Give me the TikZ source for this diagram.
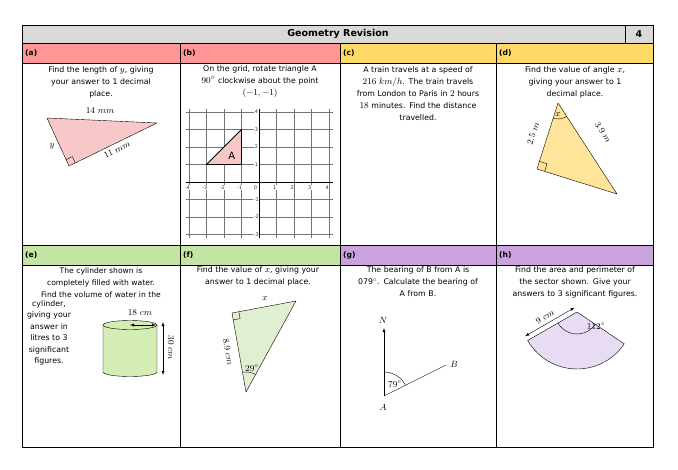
\documentclass[tikz,border=0pt]{standalone}
\usepackage{fontspec}
\setmainfont{DejaVu Sans}
\usetikzlibrary{calc}
\newcommand{\mth}[1]{{\fontsize{9.3}{10}\selectfont$#1$}}
\begin{document}
\begin{tikzpicture}[x=1pt,y=-1pt,
  txt/.style={anchor=north,text width=156pt,align=center,inner sep=0pt,font=\fontsize{7.8}{12.2}\selectfont},
  hdr/.style={anchor=west,font=\bfseries\fontsize{7.6}{9}\selectfont,inner sep=0pt},
  lab/.style={font=\fontsize{9}{10}\selectfont,inner sep=1pt},
  tick/.style={font=\fontsize{5}{5}\selectfont,text=black!80,inner sep=0.6pt}]
\definecolor{hred}{HTML}{FF9595}\definecolor{fred}{HTML}{F8C8C8}
\definecolor{hyel}{HTML}{FFD966}\definecolor{fyel}{HTML}{FFE49A}
\definecolor{hgrn}{HTML}{C5E3A2}\definecolor{fgrn}{HTML}{E0EFD2}\definecolor{fcyl}{HTML}{D3EDB4}
\definecolor{hpur}{HTML}{C9A2DE}\definecolor{fpur}{HTML}{E8DCF2}
\useasboundingbox (0,0) rectangle (678,469);
% header fills
\fill[black!15] (22,25) rectangle (653,43);
\fill[hred] (22,43) rectangle (340,63);
\fill[hyel] (340,43) rectangle (653,63);
\fill[hgrn] (22,245) rectangle (340,265);
\fill[hpur] (340,245) rectangle (653,265);
\draw[line width=0.8pt] (22,25) rectangle (653,447);
\draw[line width=0.8pt] (22,43)--(653,43) (22,63)--(653,63) (22,245)--(653,245) (22,265)--(653,265)
 (625,25)--(625,43) (180,43)--(180,447) (340,43)--(340,447) (496,43)--(496,447);
\node[font=\bfseries\fontsize{9.5}{10}\selectfont] (title) at (338,34) {Geometry Revision};
\node[font=\bfseries\fontsize{9.5}{10}\selectfont] (num) at (639,34) {4};
\node[hdr] (ha) at (25,53) {(a)};
\node[hdr] (hb) at (183,53) {(b)};
\node[hdr] (hc) at (343,53) {(c)};
\node[hdr] (hd) at (499,53) {(d)};
\node[hdr] (he) at (25,255) {(e)};
\node[hdr] (hf) at (183,255) {(f)};
\node[hdr] (hg) at (343,255) {(g)};
\node[hdr] (hh) at (499,255) {(h)};
% (a)
\node[txt] (ta) at (101,66) {Find the length of \mth{y}, giving\\ your answer to 1 decimal\\ place.};
\coordinate (a1) at (47,118); \coordinate (a2) at (157,123); \coordinate (a3) at (69,166);
\draw[fill=fred] (a1)--(a2)--(a3)--cycle;
\draw ($(a3)!7pt!(a1)$) -- ($(a3)!7pt!(a1)+(a3)!7pt!(a2)-(a3)$) -- ($(a3)!7pt!(a2)$);
\node[lab] (la1) at (100,111) {$14\ mm$};
\node[lab] (la2) at (52,146) {$y$};
\node[lab,rotate=26] (la3) at (117,150) {$11\ mm$};
% (b)
\node[txt] (tb) at (260,65) {On the grid, rotate triangle A\\ \mth{90^\circ} clockwise about the point\\ \mth{(-1,-1)}};
\begin{scope}[shift={(259,182)},x=17.5pt,y=17.5pt]
\foreach \i in {-4,...,4} \draw[black!55,line width=0.5pt] (\i,-3.2)--(\i,4.2);
\foreach \j in {-3,...,4} \draw[black!55,line width=0.5pt] (-4.2,\j)--(4.2,\j);
\draw[line width=1pt] (-4.2,0)--(4.2,0) (0,-3.2)--(0,4.2);
\foreach \i in {-4,-3,-2,-1,1,2,3,4} \node[tick,fill=white] at (\i-0.1,-0.3) {\i};
\node[tick,fill=white] at (-0.2,-0.3) {0};
\foreach \j in {-3,-2,-1,1,2,3,4} \node[tick,fill=white] at (-0.15,\j) {\j};
\draw[fill=fred,line width=0.8pt] (-3,1)--(-1,1)--(-1,3)--cycle;
\node[font=\fontsize{10}{10}\selectfont] (A) at (-1.55,1.5) {A};
\end{scope}
% (c)
\node[txt] (tc) at (418,66) {A train travels at a speed of\\ \mth{216\ km/h}. The train travels\\ from London to Paris in \mth{2} hours\\ \mth{18} minutes. Find the distance\\ travelled.};
% (d)
\node[txt] (td) at (575,66) {Find the value of angle \mth{x},\\ giving your answer to 1\\ decimal place.};
\coordinate (d1) at (558,103); \coordinate (d2) at (537,169); \coordinate (d3) at (617,194);
\draw[fill=fyel] (d1)--(d2)--(d3)--cycle;
\draw ($(d2)!8pt!(d1)$) -- ($(d2)!8pt!(d1)+(d2)!8pt!(d3)-(d2)$) -- ($(d2)!8pt!(d3)$);
\draw ([shift={(107.6:16)}]d1) arc (107.6:57:16);
\node[lab] (lx) at (558,115) {$x$};
\node[lab,rotate=72] (ld1) at (533,134) {$2.5\ m$};
\node[lab,rotate=-57] (ld2) at (603,132) {$3.9\ m$};
% (e)
\node[txt,font=\fontsize{7.6}{11.8}\selectfont] (te) at (101,268) {The cylinder shown is\\ completely filled with water.\\ Find the volume of water in the};
\node[txt,text width=70pt,font=\fontsize{7.8}{11.5}\selectfont] (te2) at (49,300) {cylinder,\\ giving your\\ answer in\\ litres to 3\\ significant\\ figures.};
\fill[fcyl] (103,325) -- (103,372) arc (180:0:27 and 4.5) -- (157,325) -- cycle;
\draw[fill=fcyl] (130,325) ellipse (27 and 4.5);
\draw (103,325)--(103,372) arc (180:0:27 and 4.5) -- (157,325);
\coordinate (ec) at (130,325); \coordinate (er) at (156,325);
\draw[<->,>=latex] (ec)--(er);
\node[lab] (le1) at (140,313) {$18\ cm$};
\coordinate (et) at (163,322); \coordinate (eb) at (163,375);
\draw[<->,>=latex] (et)--(eb);
\node[lab,rotate=-90] (le2) at (171,348) {$30\ cm$};
% (f)
\node[txt] (tf) at (258,266) {Find the value of \mth{x}, giving your\\ answer to 1 decimal place.};
\coordinate (f1) at (232,313); \coordinate (f2) at (296,301); \coordinate (f3) at (246,392);
\draw[fill=fgrn] (f1)--(f2)--(f3)--cycle;
\draw ($(f1)!7pt!(f2)$) -- ($(f1)!7pt!(f2)+(f1)!7pt!(f3)-(f1)$) -- ($(f1)!7pt!(f3)$);
\draw ([shift={(-100:20)}]f3) arc (-100:-61:20);
\node[lab] (lfx) at (265,299) {$x$};
\node[lab,rotate=-80] (lf1) at (228,352) {$8.9\ cm$};
\node[lab] (lf2) at (252,368) {$29^\circ$};
% (g)
\node[txt] (tg) at (418,266) {The bearing of B from A is\\ 079${}^\circ$. Calculate the bearing of\\ A from B.};
\coordinate (gA) at (384,396); \coordinate (gN) at (384,328); \coordinate (gB) at (446,365);
\draw[->,>=latex] (gA)--(gN);
\draw (gA)--(gB);
\draw ([shift={(-90:24)}]gA) arc (-90:-26.6:24);
\node[lab] (lN) at (383,320) {$N$};
\node[lab] (lB) at (454,364) {$B$};
\node[lab] (lA) at (383,407) {$A$};
\node[lab] (l79) at (395,384) {$79^\circ$};
% (h)
\node[txt] (th) at (575,266) {Find the area and perimeter of\\ the sector shown. Give your\\ answers to 3 significant figures.};
\coordinate (hc) at (577,312);
\draw[fill=fpur] (hc) -- ++(150:57) arc (150:34:57) -- cycle;
\draw ([shift={(150:22)}]hc) arc (150:34:22);
\coordinate (hp) at ($(hc)+(150:57)+(-120:5)$); \coordinate (hq) at ($(hc)+(-120:5)$);
\draw[<->,>=latex] (hp)--(hq);
\node[lab,rotate=30] (lh1) at ($(hc)+(150:30)+(-120:12)$) {$9\ cm$};
\node[lab] (lh2) at (596,326) {$112^\circ$};
\end{tikzpicture}
\end{document}
